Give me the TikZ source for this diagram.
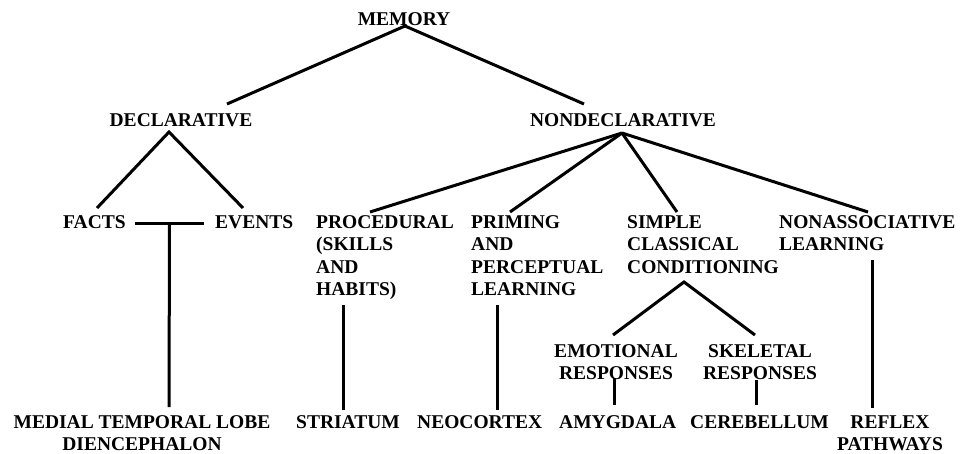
\documentclass[tikz,border=0pt]{standalone}
\usepackage{fontspec}
\setmainfont{Liberation Serif}
\begin{document}
\begin{tikzpicture}[x=1pt,y=-1pt,
  lbl/.style={inner sep=0pt,font=\fontsize{19.5}{22.5}\selectfont\bfseries},
  con/.style={line width=3pt}]
\useasboundingbox (0,0) rectangle (962,453);
% nodes (for multi-line nodes the base anchor is the last line's baseline)
\node[lbl,anchor=base] (mem) at (404,25) {MEMORY};
\node[lbl,anchor=base] (decl) at (181,126) {DECLARATIVE};
\node[lbl,anchor=base] (nondecl) at (623,126) {NONDECLARATIVE};
\node[lbl,anchor=base west] (facts) at (63,228) {FACTS};
\node[lbl,anchor=base west] (events) at (215,228) {EVENTS};
\node[lbl,anchor=base west,align=left] (proc) at (316,295.5) {PROCEDURAL\\(SKILLS\\AND\\HABITS)};
\node[lbl,anchor=base west,align=left] (prim) at (471,295.5) {PRIMING\\AND\\PERCEPTUAL\\LEARNING};
\node[lbl,anchor=base west,align=left] (simp) at (627,273) {SIMPLE\\CLASSICAL\\CONDITIONING};
\node[lbl,anchor=base west,align=left] (nonas) at (779,250.5) {NONASSOCIATIVE\\LEARNING};
\node[lbl,anchor=base,align=center] (emo) at (616,379.5) {EMOTIONAL\\RESPONSES};
\node[lbl,anchor=base,align=center] (skel) at (760,379.5) {SKELETAL\\RESPONSES};
\node[lbl,anchor=base,align=center] (mtl) at (142,450.5) {MEDIAL TEMPORAL LOBE\\DIENCEPHALON};
\node[lbl,anchor=base west] (stri) at (296,428) {STRIATUM};
\node[lbl,anchor=base west] (neo) at (417,428) {NEOCORTEX};
\node[lbl,anchor=base west] (amy) at (559,428) {AMYGDALA};
\node[lbl,anchor=base west] (cereb) at (690,428) {CEREBELLUM};
\node[lbl,anchor=base,align=center] (refl) at (890,450.5) {REFLEX\\PATHWAYS};
% connectors
\draw[con] ([shift={(46,-22)}]decl.base) -- ([shift={(1,1)}]mem.base) -- ([shift={(-39,-22)}]nondecl.base);
\draw[con] ([shift={(34,-20)}]facts.base west) -- ([shift={(-12,6)}]decl.base) -- ([shift={(28,-20)}]events.base west);
\draw[con] ([shift={(72,-5)}]facts.base west) -- coordinate[pos=0.5] (fe) ([shift={(-11,-5)}]events.base west);
\draw[con] (fe) -- ([shift={(27,-43.5)}]mtl.base);
\draw[con] ([shift={(-1,7)}]nondecl.base) -- ([shift={(54,-83.5)}]proc.base west);
\draw[con] ([shift={(-1,7)}]nondecl.base) -- ([shift={(39,-83.5)}]prim.base west);
\draw[con] ([shift={(-1,7)}]nondecl.base) -- ([shift={(50,-61)}]simp.base west);
\draw[con] ([shift={(-1,7)}]nondecl.base) -- ([shift={(89,-38.5)}]nonas.base west);
\draw[con] ([shift={(27,9.5)}]proc.base west) -- ([shift={(47,-18)}]stri.base west);
\draw[con] ([shift={(26,9.5)}]prim.base west) -- ([shift={(80,-18)}]neo.base west);
\draw[con] ([shift={(-3,-44.5)}]emo.base) -- ([shift={(57,9)}]simp.base west) -- ([shift={(-5,-44.5)}]skel.base);
\draw[con] ([shift={(-2,-1.5)}]emo.base) -- ([shift={(55,-23)}]amy.base west);
\draw[con] ([shift={(-4,0.5)}]skel.base) -- ([shift={(66,-23)}]cereb.base west);
\draw[con] ([shift={(93,9.5)}]nonas.base west) -- ([shift={(-18,-42.5)}]refl.base);
\end{tikzpicture}
\end{document}
